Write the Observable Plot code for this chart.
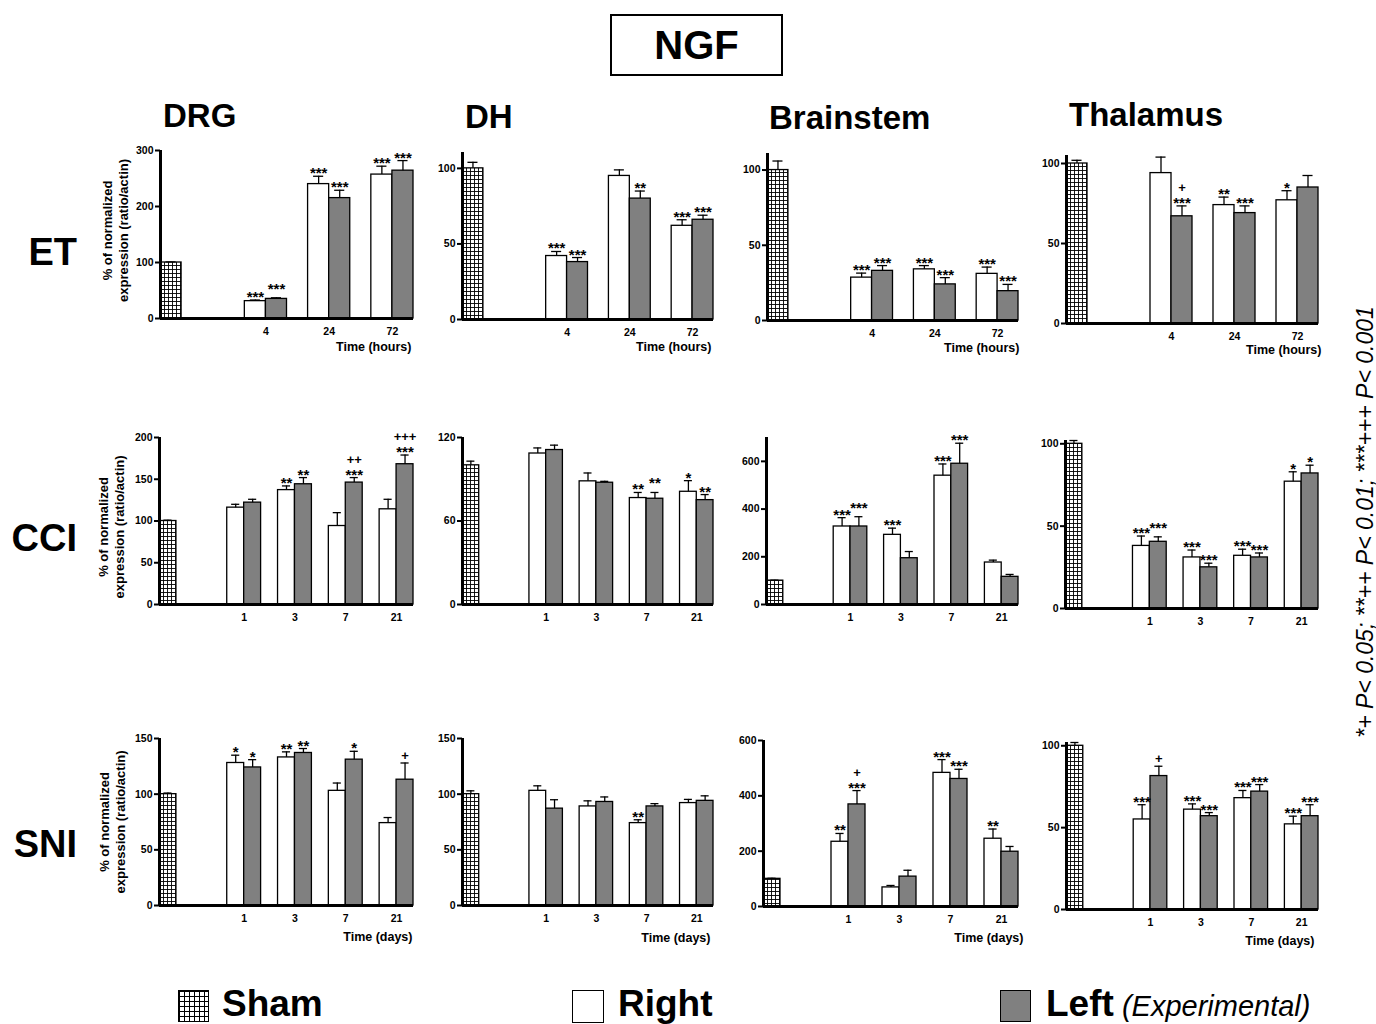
<!DOCTYPE html>
<html><head><meta charset="utf-8">
<script src="https://cdn.jsdelivr.net/npm/d3@7"></script>
<script src="https://cdn.jsdelivr.net/npm/@observablehq/plot@0.6"></script>
<style>
body{margin:0;background:#fff;}
#page{position:relative;width:1376px;height:1024px;overflow:hidden;font-family:"Liberation Sans",Arial,sans-serif;color:#000;background:#fff;}
.abs{position:absolute;white-space:nowrap;line-height:1;}
.panel{position:absolute;}
</style></head>
<body>
<svg width="0" height="0" style="position:absolute">
  <defs>
    <pattern id="shamGrid" patternUnits="userSpaceOnUse" width="4" height="4">
      <rect width="4" height="4" fill="#fff"></rect>
      <path d="M0 0.5H4M0.5 0V4" stroke="#000" stroke-width="0.9"></path>
    </pattern>
  </defs>
</svg>
<div id="page"></div>
<script>
// ---------------- DATA ----------------
const models = ["ET", "CCI", "SNI"];
const regions = ["DRG", "DH", "Brainstem", "Thalamus"];
const etTimes = ["4", "24", "72"];
const dayTimes = ["1", "3", "7", "21"];
const shamValue = 100;

// ET (rows: DRG, DH, Brainstem, Thalamus; columns: 4, 24, 72 h)
const etRight    = [[31, 240, 257], [42, 95, 62], [28.5, 34, 31], [94, 74, 77]];
const etRightErr = [[2, 14, 15], [3, 4, 4], [3, 2.5, 4.5], [10, 5, 6]];
const etLeft     = [[35, 215, 264], [38, 80, 66], [33, 24, 19.5], [67, 69, 85]];
const etLeftErr  = [[2, 14, 18], [3, 5, 3], [3.5, 4.5, 4.5], [6.5, 4.5, 7.5]];
const etRightSig = [["***", "***", "***"], ["***", "", "***"], ["***", "***", "***"], ["", "**", "*"]];
const etLeftSig  = [["***", "***", "***"], ["***", "**", "***"], ["***", "***", "***"], ["+\n***", "***", ""]];
const etShamErr  = [1, 4, 6, 2];

// CCI (columns: 1, 3, 7, 21 days)
const cciRight    = [[116, 137, 94, 114], [108.5, 88.5, 76.5, 81], [327, 292, 540, 176], [38, 31, 32, 77]];
const cciRightErr = [[4, 5, 16, 12], [4, 6, 4, 8], [37, 28, 49, 10], [6, 4.5, 4, 6]];
const cciLeft     = [[122, 144, 146, 168], [111, 87.5, 76, 75], [327, 194, 590, 116], [40.5, 25, 31, 82]];
const cciLeftErr  = [[4, 8, 6, 11], [3.5, 1, 4.5, 4], [41, 28, 86, 10], [3, 2.5, 2.7, 5]];
const cciRightSig = [["", "**", "", ""], ["", "", "**", "*"], ["***", "***", "***", ""], ["***", "***", "***", "*"]];
const cciLeftSig  = [["", "**", "++\n***", "+++\n***"], ["", "", "**", "**"], ["***", "", "***", ""], ["***", "***", "***", "*"]];
const cciShamErr  = [1, 3, 2, 2];

// SNI (columns: 1, 3, 7, 21 days)
const sniRight    = [[128, 133, 103, 74], [103, 89, 74, 92], [234, 69, 483, 245], [55, 61, 68, 52]];
const sniRightErr = [[7, 5, 7, 5], [4.5, 5, 3, 3.3], [30, 7, 48, 35], [9, 3.5, 4.7, 5]];
const sniLeft     = [[124, 137, 131, 113], [87, 93, 89, 94], [369, 108, 461, 198], [81.5, 57, 72, 57]];
const sniLeftErr  = [[7, 4, 7.5, 15], [8, 4.5, 2.5, 4.5], [50, 23, 35, 19], [6, 2.2, 4.3, 7]];
const sniRightSig = [["*", "**", "", ""], ["", "", "**", ""], ["**", "", "***", "**"], ["***", "***", "***", "***"]];
const sniLeftSig  = [["*", "**", "*", "+"], ["", "", "", ""], ["+\n***", "", "***", ""], ["+", "***", "***", "***"]];
const sniShamErr  = [1, 3, 2, 2];

// y-axis tick labels
const etTicks  = [[0, 100, 200, 300], [0, 50, 100], [0, 50, 100], [0, 50, 100]];
const cciTicks = [[0, 50, 100, 150, 200], [0, 60, 120], [0, 200, 400, 600], [0, 50, 100]];
const sniTicks = [[0, 50, 100, 150], [0, 50, 100, 150], [0, 200, 400, 600], [0, 50, 100]];

const timeLabels = {ET: "Time (hours)", SNI: "Time (days)"};
const yTitle = "% of normalized\nexpression (ratio/actin)";
const significanceNote = "*+ P< 0.05; **++ P< 0.01; ***+++ P< 0.001";

// ---------------- LAYOUT ----------------
const FONT = "Liberation Sans, Arial, sans-serif";
const layout = {
  ET: [
    {axisX: 160, xEnd: 413, y0: 318, yTop: 150, yMax: 300, tl: [411, 350], yt: [-46, -4]},
    {axisX: 462, xEnd: 713, y0: 319, yTop: 152, yMax: 110.5, tl: [711, 350]},
    {axisX: 767, xEnd: 1018, y0: 320, yTop: 153, yMax: 111, tl: [1019, 351]},
    {axisX: 1066, xEnd: 1318, y0: 323, yTop: 155, yMax: 105, tl: [1321, 353]}
  ],
  CCI: [
    {axisX: 159, xEnd: 413, y0: 604, yTop: 437, yMax: 200, yt: [-49, 6]},
    {axisX: 462, xEnd: 713, y0: 604, yTop: 437, yMax: 120},
    {axisX: 766, xEnd: 1018, y0: 604, yTop: 437, yMax: 700},
    {axisX: 1065, xEnd: 1318, y0: 608, yTop: 440, yMax: 102}
  ],
  SNI: [
    {axisX: 159, xEnd: 413, y0: 905, yTop: 738, yMax: 150, tl: [412, 940], yt: [-48, 0]},
    {axisX: 462, xEnd: 713, y0: 905, yTop: 738, yMax: 150, tl: [710, 941]},
    {axisX: 763, xEnd: 1018, y0: 906, yTop: 740, yMax: 600, tl: [1023, 941]},
    {axisX: 1066, xEnd: 1318, y0: 909, yTop: 742, yMax: 102, tl: [1314, 944]}
  ]
};

const page = document.getElementById("page");

function makePanel(model, ri, times, right, rightErr, left, leftErr, rightSig, leftSig, shamErr, ticks) {
  const L = layout[model][ri];
  const n = 3 + 3 * times.length;
  const pxPerUnit = (L.y0 - L.yTop) / L.yMax;
  const split = s => {
    const parts = (s || "").split("\n");
    const plus = parts.find(p => p.startsWith("+")) || "";
    const stars = parts.find(p => p.startsWith("*")) || "";
    return {plus, stars};
  };
  const sham = [{slot: 0, v: shamValue, e: shamErr, plus: "", stars: "", raise: 0}];
  const R = times.map((t, i) => ({slot: 4 + 3 * i, v: right[i], e: rightErr[i], ...split(rightSig[i]), raise: 0}));
  const Lf = times.map((t, i) => {
    const s = split(leftSig[i]);
    // lift a left label that would sit at the same height as its right neighbour
    const diffPx = Math.abs((left[i] + leftErr[i]) - (right[i] + rightErr[i])) * pxPerUnit;
    const rs = split(rightSig[i]);
    const raise = (s.stars && rs.stars && diffPx < 2.5) ? 6 : 0;
    return {slot: 5 + 3 * i, v: left[i], e: leftErr[i], ...s, raise};
  });
  const all = [...sham, ...R, ...Lf];
  const tickPos = times.map((t, i) => 5 + 3 * i);
  const mL = 80, mR = 25, mT = 45, mB = 50;
  const width = (L.xEnd - L.axisX) + mL + mR;
  const height = (L.y0 - L.yTop) + mT + mB;
  const barOpts = {x1: "slot", x2: d => d.slot + 1, y1: 0, y2: "v", stroke: "#000", strokeWidth: 1.3};
  const starData = all.filter(d => d.stars);
  const plusData = all.filter(d => d.plus);
  const marks = [
    Plot.rect(sham, {...barOpts, fill: "url(#shamGrid)"}),
    Plot.rect(R, {...barOpts, fill: "#fff"}),
    Plot.rect(Lf, {...barOpts, fill: "#808080"}),
    Plot.ruleX(all, {x: d => d.slot + 0.5, y1: "v", y2: d => d.v + d.e, stroke: "#000", strokeWidth: 1.3}),
    Plot.ruleY(all, {y: d => d.v + d.e, x1: d => d.slot + 0.26, x2: d => d.slot + 0.74, stroke: "#000", strokeWidth: 1.3}),
    Plot.text(starData.filter(d => !d.raise), {x: d => d.slot + 0.5, y: d => d.v + d.e, text: "stars", lineAnchor: "bottom",
      dy: 2, fontSize: 15, fontWeight: "bold", fill: "#000"}),
    Plot.text(starData.filter(d => d.raise), {x: d => d.slot + 0.5, y: d => d.v + d.e, text: "stars", lineAnchor: "bottom",
      dy: -4, fontSize: 15, fontWeight: "bold", fill: "#000"}),
    Plot.text(plusData.filter(d => d.stars), {x: d => d.slot + 0.5, y: d => d.v + d.e, text: "plus", lineAnchor: "bottom",
      dy: -14, fontSize: 13, fontWeight: "bold", fill: "#000"}),
    Plot.text(plusData.filter(d => !d.stars), {x: d => d.slot + 0.5, y: d => d.v + d.e, text: "plus", lineAnchor: "bottom",
      dy: -3, fontSize: 13, fontWeight: "bold", fill: "#000"}),
    Plot.ruleX([0], {stroke: "#000", strokeWidth: 3}),
    Plot.ruleY([0], {stroke: "#000", strokeWidth: 3}),
    Plot.axisY(ticks, {tickSize: 5, tickPadding: 2, fontSize: 10.5, fontWeight: "bold", strokeWidth: 2, label: null, fill: "#000"}),
    Plot.axisX(tickPos, {tickSize: 0, tickPadding: 9, tickFormat: d => times[(d - 5) / 3], fontSize: 10.5, fontWeight: "bold", label: null, fill: "#000"})
  ];
  if (L.tl && timeLabels[model]) {
    marks.push(Plot.text([timeLabels[model]], {frameAnchor: "bottom-right", text: d => d, textAnchor: "end",
      dx: L.tl[0] - L.xEnd, dy: L.tl[1] - L.y0, fontSize: 12.5, fontWeight: "bold", fill: "#000"}));
  }
  if (L.yt) {
    marks.push(Plot.text([yTitle], {frameAnchor: "left", text: d => d, rotate: -90, textAnchor: "middle",
      dx: L.yt[0], dy: L.yt[1], fontSize: 13, fontWeight: "bold", lineHeight: 1.25, fill: "#000"}));
  }
  const svg = Plot.plot({
    width, height, marginLeft: mL, marginRight: mR, marginTop: mT, marginBottom: mB,
    x: {domain: [0, n]},
    y: {domain: [0, L.yMax]},
    style: {background: "transparent", overflow: "visible", fontFamily: FONT, color: "#000"},
    marks
  });
  const div = document.createElement("div");
  div.className = "panel";
  div.style.left = (L.axisX - mL) + "px";
  div.style.top = (L.yTop - mT) + "px";
  div.appendChild(svg);
  page.appendChild(div);
}

regions.forEach((r, i) => {
  makePanel("ET", i, etTimes, etRight[i], etRightErr[i], etLeft[i], etLeftErr[i], etRightSig[i], etLeftSig[i], etShamErr[i], etTicks[i]);
  makePanel("CCI", i, dayTimes, cciRight[i], cciRightErr[i], cciLeft[i], cciLeftErr[i], cciRightSig[i], cciLeftSig[i], cciShamErr[i], cciTicks[i]);
  makePanel("SNI", i, dayTimes, sniRight[i], sniRightErr[i], sniLeft[i], sniLeftErr[i], sniRightSig[i], sniLeftSig[i], sniShamErr[i], sniTicks[i]);
});

// ---------------- TEXT / LEGEND ----------------
function addText(txt, {x, baseline, size, weight = "bold", style = "normal", align = "left"}) {
  const d = document.createElement("div");
  d.className = "abs";
  d.textContent = txt;
  d.style.fontSize = size + "px";
  d.style.fontWeight = weight;
  d.style.fontStyle = style;
  d.style.top = (baseline - 0.847 * size) + "px";
  if (align === "right") { d.style.right = (1376 - x) + "px"; } else { d.style.left = x + "px"; }
  page.appendChild(d);
  return d;
}

// Title box
const tbox = document.createElement("div");
tbox.className = "abs";
Object.assign(tbox.style, {left: "610px", top: "14px", width: "169px", height: "58px", border: "2px solid #000",
  display: "flex", alignItems: "center", justifyContent: "center", fontSize: "40px", fontWeight: "bold"});
tbox.textContent = "NGF";
page.appendChild(tbox);

// Column headers
const colX = [163, 465, 769, 1069];
const colBase = [127, 128, 129, 126];
regions.forEach((r, i) => addText(r, {x: colX[i], baseline: colBase[i], size: 33}));

// Row labels
const rowBase = [265, 551, 857];
models.forEach((m, i) => addText(m, {x: 77, baseline: rowBase[i], size: 38, align: "right"}));

// Significance note (rotated)
const note = document.createElement("div");
note.className = "abs";
note.textContent = significanceNote;
Object.assign(note.style, {left: "1365px", top: "522px", fontSize: "23px", fontStyle: "italic", fontWeight: "normal",
  transform: "translate(-50%,-50%) rotate(-90deg)"});
page.appendChild(note);

// Legend
function swatch(x, y, w, h, bg, extra = {}) {
  const s = document.createElement("div");
  s.className = "abs";
  Object.assign(s.style, {left: x + "px", top: y + "px", width: w + "px", height: h + "px", border: "1.5px solid #000",
    boxSizing: "border-box", background: bg}, extra);
  page.appendChild(s);
}
swatch(178, 990, 31, 32, "#fff", {backgroundImage: "linear-gradient(#000 1px, transparent 1px), linear-gradient(90deg, #000 1px, transparent 1px)", backgroundSize: "5px 5px"});
addText("Sham", {x: 222, baseline: 1016, size: 37});
swatch(572, 990, 32, 33, "#fff");
addText("Right", {x: 618, baseline: 1016, size: 37});
swatch(1000, 990, 31, 32, "#808080");
const lt = addText("Left", {x: 1046, baseline: 1016, size: 37});
const ex = document.createElement("span");
ex.textContent = " (Experimental)";
Object.assign(ex.style, {fontSize: "29px", fontStyle: "italic", fontWeight: "normal"});
lt.appendChild(ex);
</script>
</body></html>
